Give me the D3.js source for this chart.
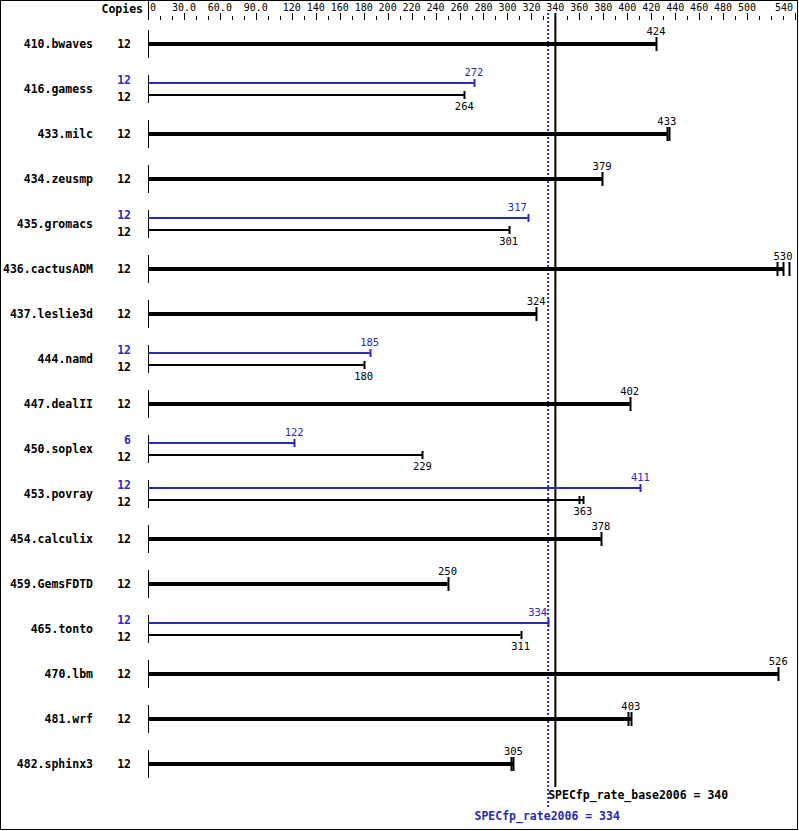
<!DOCTYPE html>
<html><head><meta charset="utf-8">
<script src="https://cdn.jsdelivr.net/npm/d3@7"></script>
<style>body{margin:0;background:#fff}svg{display:block}</style>
</head><body>
<script>
const benchmarks = ["410.bwaves","416.gamess","433.milc","434.zeusmp","435.gromacs","436.cactusADM","437.leslie3d","444.namd","447.dealII","450.soplex","453.povray","454.calculix","459.GemsFDTD","465.tonto","470.lbm","481.wrf","482.sphinx3"];
const baseCopies = [12,12,12,12,12,12,12,12,12,12,12,12,12,12,12,12,12];
const baseValues = [424,264,433,379,301,530,324,180,402,229,363,378,250,311,526,403,305];
const baseRuns = [[424],[264],[433,435],[379],[301],[525,530,535],[324],[180],[402],[229],[360,363],[378],[250],[311],[526],[401,403],[303,305]];
const peakCopies = [null,12,null,null,12,null,null,12,null,6,12,null,null,12,null,null,null];
const peakValues = [null,272,null,null,317,null,null,185,null,122,411,null,null,334,null,null,null];
const tickLabels = [0,30,60,90,120,140,160,180,200,220,240,260,280,300,320,340,360,380,400,420,440,460,480,500,540];
const minorTicks = [10,20,40,50,70,80,100,110,130,150,170,190,210,230,250,270,290,310,330,350,370,390,410,430,450,470,490,510,520,530];
const baseMean = 340, peakMean = 334;

const W = 799, H = 831;
const BLUE = "#2a2ab4";
const MONO = "'DejaVu Sans Mono', monospace";
const svg = d3.select("body").append("svg").attr("width", W).attr("height", H);
svg.append("rect").attr("x",0.5).attr("y",0.5).attr("width",797).attr("height",829)
  .attr("fill","#fff").attr("stroke","#000");

const x = d3.scaleLinear().domain([0,540]).range([148,795]);
const y = d3.scalePoint().domain(benchmarks).range([44, 44+45*16]);

// top axis
svg.append("line").attr("x1",148.5).attr("x2",148.5).attr("y1",0).attr("y2",20).attr("stroke","#000");
svg.append("text").attr("x",143).attr("y",13).attr("text-anchor","end")
  .attr("font-family",MONO).attr("font-weight","bold").attr("font-size","11.5px").text("Copies");
const tg = svg.append("g");
tg.selectAll("line.maj").data(tickLabels.filter(d=>d>0)).join("line")
  .attr("x1",d=>Math.round(x(d))+0.5).attr("x2",d=>Math.round(x(d))+0.5)
  .attr("y1",13).attr("y2",20).attr("stroke","#000");
tg.selectAll("line.min").data(minorTicks).join("line")
  .attr("x1",d=>Math.round(x(d))+0.5).attr("x2",d=>Math.round(x(d))+0.5)
  .attr("y1",16).attr("y2",20).attr("stroke","#000");
const last = tickLabels[tickLabels.length-1];
tg.selectAll("text").data(tickLabels).join("text")
  .attr("x",d=>d===0? x(0)+2 : (d===last ? x(d)-2 : x(d)))
  .attr("y",10.5)
  .attr("text-anchor",d=>d===0?"start":(d===last?"end":"middle"))
  .attr("font-family",MONO).attr("font-size","10px")
  .text(d=> d===0 ? "0" : (d<120 ? d.toFixed(1) : String(d)));

// reference lines
svg.append("line").attr("x1",x(peakMean)).attr("x2",x(peakMean)).attr("y1",13).attr("y2",808)
  .attr("stroke",BLUE).attr("stroke-width",2).attr("stroke-dasharray","2,2");
svg.append("line").attr("x1",x(baseMean)).attr("x2",x(baseMean)).attr("y1",13).attr("y2",787)
  .attr("stroke","#000").attr("stroke-width",2);

const rows = benchmarks.map((b,i)=>({b, i, bc:baseCopies[i], bv:baseValues[i], runs:baseRuns[i], pc:peakCopies[i], pv:peakValues[i]}));
const g = svg.selectAll("g.row").data(rows).join("g").attr("class","row");

g.append("line").attr("x1",148.5).attr("x2",148.5)
  .attr("y1",d=>y(d.b)-14).attr("y2",d=>y(d.b)+14).attr("stroke","#000");
g.append("text").attr("x",93).attr("y",d=>y(d.b)+4).attr("text-anchor","end")
  .attr("font-family",MONO).attr("font-weight","bold").attr("font-size","11.5px").text(d=>d.b);

g.each(function(d){
  const s = d3.select(this);
  const cy = y(d.b);
  if (d.pv == null) {
    s.append("text").attr("x",131).attr("y",cy+4).attr("text-anchor","end")
      .attr("font-family",MONO).attr("font-weight","bold").attr("font-size","11.5px").text(d.bc);
    s.append("line").attr("x1",x(0)).attr("x2",x(d.bv)).attr("y1",cy).attr("y2",cy)
      .attr("stroke","#000").attr("stroke-width",4);
    d.runs.forEach(r=>{
      s.append("line").attr("x1",Math.round(x(r))+0.5).attr("x2",Math.round(x(r))+0.5)
        .attr("y1",cy-7).attr("y2",cy+7).attr("stroke","#000").attr("stroke-width",2);
    });
    s.append("text").attr("x",x(d.bv)).attr("y",cy-9).attr("text-anchor","middle")
      .attr("font-family",MONO).attr("font-size","10.5px").text(d.bv);
  } else {
    const py = cy-6, by = cy+6;
    s.append("text").attr("x",131).attr("y",py+1).attr("text-anchor","end").attr("fill",BLUE)
      .attr("font-family",MONO).attr("font-weight","bold").attr("font-size","11.5px").text(d.pc);
    s.append("text").attr("x",131).attr("y",by+6).attr("text-anchor","end")
      .attr("font-family",MONO).attr("font-weight","bold").attr("font-size","11.5px").text(d.bc);
    s.append("line").attr("x1",x(0)).attr("x2",x(d.pv)).attr("y1",py).attr("y2",py)
      .attr("stroke",BLUE).attr("stroke-width",2);
    s.append("line").attr("x1",Math.round(x(d.pv))+0.5).attr("x2",Math.round(x(d.pv))+0.5)
      .attr("y1",py-4).attr("y2",py+4).attr("stroke",BLUE).attr("stroke-width",2);
    const nearLine = Math.abs(x(d.pv) - x(peakMean)) < 25;
    s.append("text").attr("x",nearLine ? x(d.pv)-1 : x(d.pv)).attr("y",py-7)
      .attr("text-anchor",nearLine ? "end" : "middle").attr("fill",BLUE)
      .attr("font-family",MONO).attr("font-size","10.5px").text(d.pv);
    s.append("line").attr("x1",x(0)).attr("x2",x(d.bv)).attr("y1",by).attr("y2",by)
      .attr("stroke","#000").attr("stroke-width",2);
    d.runs.forEach(r=>{
      s.append("line").attr("x1",Math.round(x(r))+0.5).attr("x2",Math.round(x(r))+0.5)
        .attr("y1",by-4).attr("y2",by+4).attr("stroke","#000").attr("stroke-width",2);
    });
    s.append("text").attr("x",x(d.bv)).attr("y",by+15).attr("text-anchor","middle")
      .attr("font-family",MONO).attr("font-size","10.5px").text(d.bv);
  }
});

svg.append("text").attr("x",x(peakMean)).attr("y",799)
  .attr("font-family",MONO).attr("font-weight","bold").attr("font-size","11.5px")
  .text("SPECfp_rate_base2006 = " + baseMean);
svg.append("text").attr("x",x(peakMean)-1).attr("y",820).attr("text-anchor","middle").attr("fill",BLUE)
  .attr("font-family",MONO).attr("font-weight","bold").attr("font-size","11.5px")
  .text("SPECfp_rate2006 = " + peakMean);
</script>
</body></html>
